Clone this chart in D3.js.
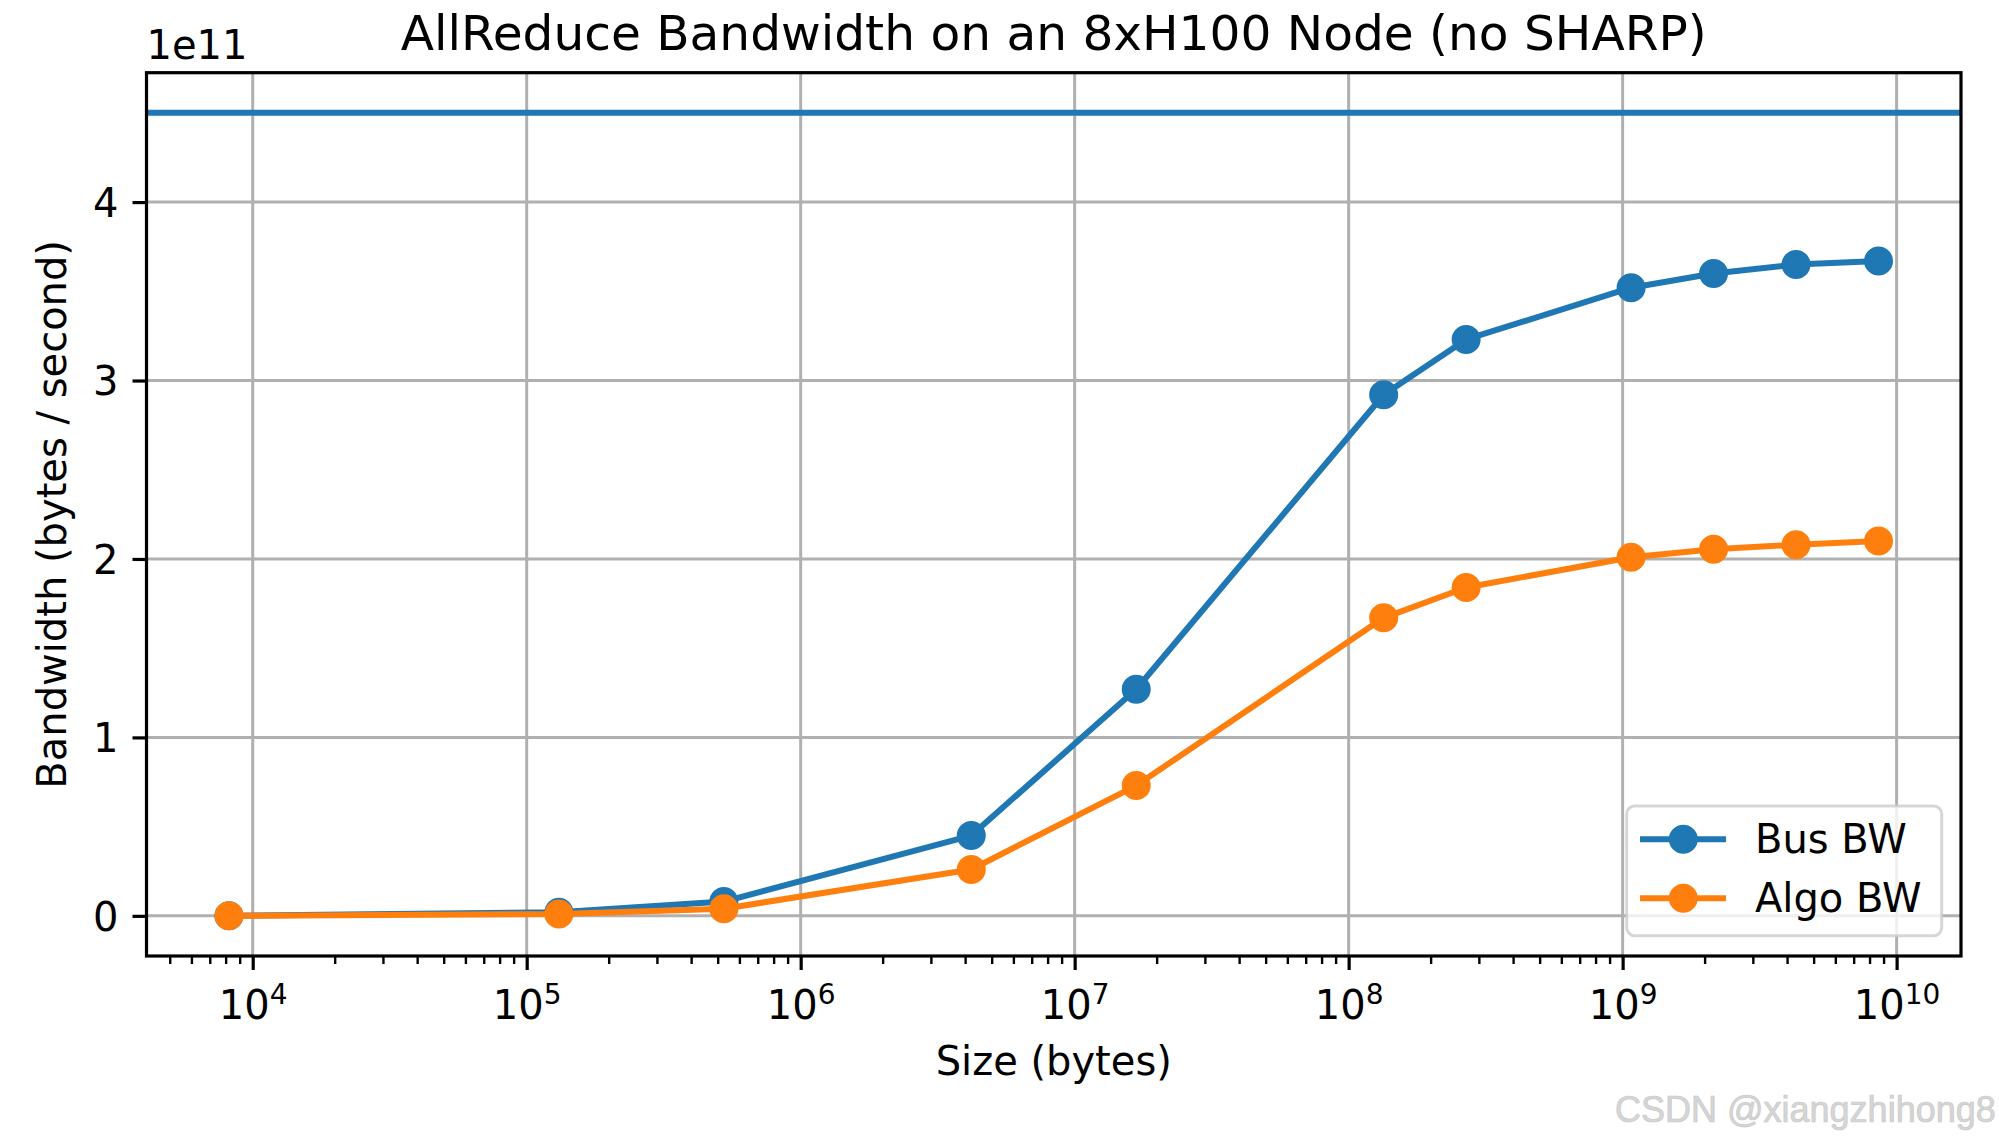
<!DOCTYPE html>
<html>
<head>
<meta charset="utf-8">
<script src="https://cdn.jsdelivr.net/npm/d3@7"></script>
<style>
  html, body { margin: 0; padding: 0; background: #fff; }
  svg { display: block; }
  text { font-family: "DejaVu Sans", sans-serif; }
</style>
</head>
<body>
<svg id="chart" width="1999" height="1144"></svg>
<script>
// ---- Data ----
const sizes = [8192, 131072, 524288, 4194304, 16777216, 134217728, 268435456,
               1073741824, 2147483648, 4294967296, 8589934592];
const busBW  = [0.00e11, 0.02e11, 0.08e11, 0.45e11, 1.27e11, 2.92e11, 3.23e11,
                3.52e11, 3.60e11, 3.65e11, 3.67e11];
const algoBW = [0.00e11, 0.01e11, 0.04e11, 0.26e11, 0.73e11, 1.67e11, 1.84e11,
                2.01e11, 2.055e11, 2.08e11, 2.10e11];
const peakBW = 4.5e11;
const xTickValues = [1e4, 1e5, 1e6, 1e7, 1e8, 1e9, 1e10];
const xTickExponents = ["4", "5", "6", "7", "8", "9", "10"];
const yTickValues = [0, 1e11, 2e11, 3e11, 4e11];
const yTickLabels = ["0", "1", "2", "3", "4"];
const seriesNames = ["Bus BW", "Algo BW"];
const seriesColors = ["#1f77b4", "#ff7f0e"];
const titleText = "AllReduce Bandwidth on an 8xH100 Node (no SHARP)";
const xLabelText = "Size (bytes)";
const yLabelText = "Bandwidth (bytes / second)";
const offsetText = "1e11";
const watermark = "CSDN @xiangzhihong8";

// ---- Layout ----
const L = 146.5, R = 1961, T = 72.7, B = 956;
const svg = d3.select("#chart");

// matplotlib-like auto margins (5%)
const lx0 = Math.log10(d3.min(sizes)), lx1 = Math.log10(d3.max(sizes));
const mx = (lx1 - lx0) * 0.05;
const x = d3.scaleLog().domain([Math.pow(10, lx0 - mx), Math.pow(10, lx1 + mx)]).range([L, R]);
const yMin = 0, yMax = peakBW, my = (yMax - yMin) * 0.05;
const y = d3.scaleLinear().domain([yMin - my, yMax + my]).range([B, T]);

// ---- Grid ----
const grid = svg.append("g");
grid.selectAll("line.gx").data(xTickValues).join("line")
  .attr("x1", d => x(d)).attr("x2", d => x(d)).attr("y1", T).attr("y2", B)
  .attr("stroke", "#b0b0b0").attr("stroke-width", 3);
grid.selectAll("line.gy").data(yTickValues).join("line")
  .attr("x1", L).attr("x2", R).attr("y1", d => y(d)).attr("y2", d => y(d))
  .attr("stroke", "#b0b0b0").attr("stroke-width", 3);

// ---- Peak line ----
svg.append("line")
  .attr("x1", L).attr("x2", R).attr("y1", y(peakBW)).attr("y2", y(peakBW))
  .attr("stroke", seriesColors[0]).attr("stroke-width", 6);

// ---- Series ----
const allSeries = [busBW, algoBW];
allSeries.forEach((vals, i) => {
  const pts = sizes.map((s, j) => [s, vals[j]]);
  const line = d3.line().x(d => x(d[0])).y(d => y(d[1]));
  svg.append("path").datum(pts)
    .attr("d", line).attr("fill", "none")
    .attr("stroke", seriesColors[i]).attr("stroke-width", 6)
    .attr("stroke-linejoin", "round");
  svg.append("g").selectAll("circle").data(pts).join("circle")
    .attr("cx", d => x(d[0])).attr("cy", d => y(d[1])).attr("r", 12.5)
    .attr("fill", seriesColors[i]).attr("stroke", seriesColors[i]).attr("stroke-width", 4);
});

// ---- Axes ----
const xAxis = d3.axisBottom(x).tickValues(xTickValues).tickSize(14).tickPadding(14).tickFormat(() => "");
const gx = svg.append("g").attr("transform", `translate(0,${B})`).call(xAxis);
gx.select(".domain").remove();
gx.selectAll(".tick line").attr("stroke", "#000").attr("stroke-width", 3.2);
gx.selectAll(".tick text").each(function(d, i) {
  const t = d3.select(this);
  t.text(null).attr("y", 62.5).attr("dy", null)
    .attr("font-size", 40).attr("text-anchor", "middle")
    .style("font-family", "DejaVu Sans").style("fill", "#000");
  t.append("tspan").text("10");
  t.append("tspan").text(xTickExponents[i]).attr("font-size", 28).attr("dy", -14.5);
});

// minor ticks
const [d0, d1] = x.domain();
const minor = [];
for (let e = Math.floor(Math.log10(d0)); e <= Math.ceil(Math.log10(d1)); e++) {
  for (let m = 2; m <= 9; m++) {
    const v = m * Math.pow(10, e);
    if (v >= d0 && v <= d1) minor.push(v);
  }
}
svg.append("g").selectAll("line").data(minor).join("line")
  .attr("x1", d => x(d)).attr("x2", d => x(d)).attr("y1", B).attr("y2", B + 8)
  .attr("stroke", "#000").attr("stroke-width", 2.4);

const yAxis = d3.axisLeft(y).tickValues(yTickValues).tickSize(14).tickPadding(14)
  .tickFormat((d, i) => yTickLabels[i]);
const gy = svg.append("g").attr("transform", `translate(${L},0)`).call(yAxis);
gy.select(".domain").remove();
gy.selectAll(".tick line").attr("stroke", "#000").attr("stroke-width", 3.2);
gy.selectAll(".tick text").attr("font-size", 40).attr("dy", "0.36em")
  .style("font-family", "DejaVu Sans").style("fill", "#000");

// ---- Spines ----
svg.append("rect").attr("x", L).attr("y", T).attr("width", R - L).attr("height", B - T)
  .attr("fill", "none").attr("stroke", "#000").attr("stroke-width", 3.2);

// ---- Texts ----
svg.append("text").attr("x", (L + R) / 2).attr("y", 50).attr("text-anchor", "middle")
  .attr("font-size", 48.6).style("fill", "#000").text(titleText);
svg.append("text").attr("x", L).attr("y", 59).attr("font-size", 40).style("fill", "#000").text(offsetText);
svg.append("text").attr("x", (L + R) / 2).attr("y", 1075).attr("text-anchor", "middle")
  .attr("font-size", 40).style("fill", "#000").text(xLabelText);
svg.append("text").attr("transform", `translate(66,${(T + B) / 2}) rotate(-90)`)
  .attr("text-anchor", "middle").attr("font-size", 40).style("fill", "#000").text(yLabelText);

// ---- Legend ----
const lg = svg.append("g");
lg.append("rect").attr("x", 1626.7).attr("y", 806).attr("width", 315).attr("height", 129.7)
  .attr("rx", 8).attr("fill", "#fff").attr("fill-opacity", 0.8)
  .attr("stroke", "#cccccc").attr("stroke-opacity", 0.8).attr("stroke-width", 3);
const rowY = [839.3, 898.3];
seriesNames.forEach((name, i) => {
  lg.append("line").attr("x1", 1643).attr("x2", 1723).attr("y1", rowY[i]).attr("y2", rowY[i])
    .attr("stroke", seriesColors[i]).attr("stroke-width", 6).attr("stroke-linecap", "square");
  lg.append("circle").attr("cx", 1683.3).attr("cy", rowY[i]).attr("r", 12.5)
    .attr("fill", seriesColors[i]).attr("stroke", seriesColors[i]).attr("stroke-width", 4);
  lg.append("text").attr("x", 1755).attr("y", rowY[i] + 13.5).attr("font-size", 40)
    .style("fill", "#000").text(name);
});

// ---- Watermark ----
svg.append("text").attr("x", 1615).attr("y", 1121.5)
  .style("font-family", "'Liberation Sans', Arial, sans-serif")
  .attr("font-size", 36).style("fill", "#d6d6d6")
  .style("stroke", "#c8c8c8").style("stroke-width", 0.7)
  .text(watermark);
</script>
</body>
</html>
